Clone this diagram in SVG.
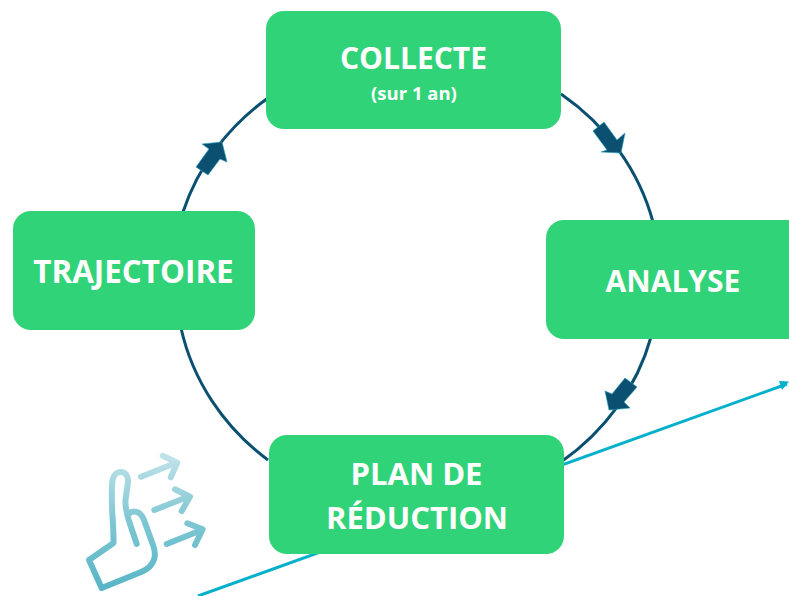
<svg xmlns="http://www.w3.org/2000/svg" width="789" height="596" viewBox="0 0 789 596">
<style>
.node{fill:#31D378}
.t{fill:#fff;font-family:"Open Sans","Noto Sans","Liberation Sans",sans-serif;font-weight:700;font-size:30px;text-anchor:middle}
.w{font-size:31px}
.s{font-size:18.500px}
.arc{fill:none;stroke:#0B5071;stroke-width:3}
.ah{fill:#0B5071;stroke:#1E9CB8;stroke-width:.6}
.ic{fill:none;stroke:url(#g);stroke-width:6;stroke-linecap:round;stroke-linejoin:round}
</style>
<defs>
<linearGradient id="g" gradientUnits="userSpaceOnUse" x1="0" y1="450" x2="0" y2="590">
<stop offset="0" stop-color="#C6E5EA"/><stop offset=".5" stop-color="#7FC7D3"/><stop offset="1" stop-color="#58B5C6"/>
</linearGradient>
</defs>
<g id="connectors">
<path class="arc" d="M561 94A245 228 0 0 1 653 222"/>
<path class="arc" d="M651 337A245 228 0 0 1 561 462"/>
<path class="arc" d="M268 460A245 228 0 0 1 181 328"/>
<path class="arc" d="M183 212A245 228 0 0 1 268 98"/>
<path class="ah" d="M604 122L593 131L607 150L601 152L621 153L625 133L617 140Z"/>
<path class="ah" d="M625 378L637 387L624 402L630 408L609 410L605 391L612 394Z"/>
<path class="ah" d="M196 167L208 175L220 159L227 162L222 142L202 144L209 149Z"/>
<path d="M198 596L787 384" fill="none" stroke="#05B0CB" stroke-width="3"/>
<path d="M789 381.500L779 381L782 390Z" fill="#05B0CB"/>
</g>
<g id="collecte"><rect class="node" x="266" y="11" width="295" height="118" rx="18"/><text class="t" x="413.500" y="69">COLLECTE</text><text class="t s" x="414" y="100">(sur 1 an)</text></g>
<g id="analyse"><rect class="node" x="546" y="220" width="260" height="119" rx="18"/><text class="t" x="673" y="292">ANALYSE</text></g>
<g id="plan"><rect class="node" x="269" y="435" width="295" height="119" rx="18"/><text class="t w" x="416.500" y="485">PLAN DE</text><text class="t w" x="417" y="529">RÉDUCTION</text></g>
<g id="trajectoire"><rect class="node" x="13" y="211" width="242" height="119" rx="18"/><text class="t" style="font-size:31.400px" x="133.500" y="283">TRAJECTOIRE</text></g>
<g id="icon">
<path class="ic" d="M136.700 544L129 521C126 511 125 507 125.500 500L128 482C129 470 115 468 112.500 480C110 500 114 525 113.500 543L89 560L101.700 588L141.700 571.700C155 566 157 555 153 545L144 520C141 511 132 509 128 515"/>
<path class="ic" d="M141 476.700L175 463.300M162.700 455.700L177.300 462.700L170.700 477.300"/>
<path class="ic" d="M154.300 510L188 496.700M175 489.300L190 496.700L181.700 511"/>
<path class="ic" d="M166.700 544L201.700 530M187.300 523.300L202.700 529.300L195 545"/>
</g>
</svg>
